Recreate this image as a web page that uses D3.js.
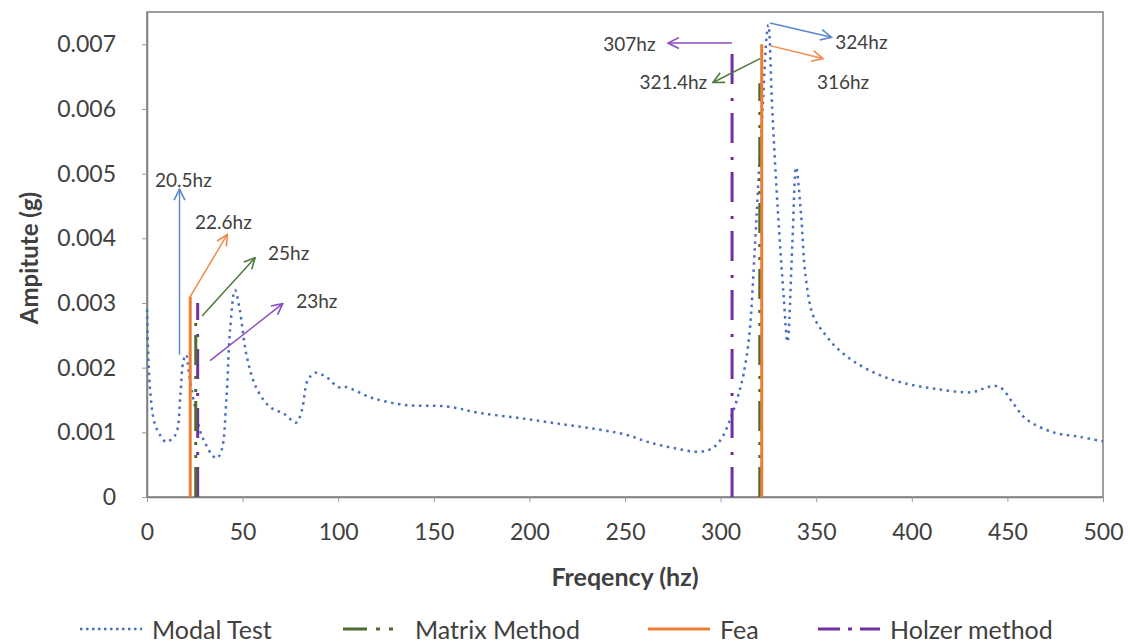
<!DOCTYPE html>
<html>
<head>
<meta charset="utf-8">
<script src="https://cdn.jsdelivr.net/npm/d3@7"></script>
<style>
  body { margin: 0; background: #fff; }
  svg { display: block; font-family: Lato, "Open Sans", sans-serif; }
</style>
</head>
<body>
<svg id="chart" width="1130" height="644"></svg>
<script>
// Modal test response
const modalFreq = [0, 1.5, 4, 7, 10, 13, 15.5, 17.5, 19, 20.5, 22, 25, 28, 31, 34, 36.5, 39, 41.5, 43.5, 46,
  48.5, 52, 57, 64, 72, 78, 81, 84, 88, 94, 100, 104, 118, 136, 157, 174, 195, 216, 237, 251, 262, 275,
  289, 296, 301, 305, 309, 312, 315, 318, 320, 322, 324, 325, 327, 330, 333, 335, 337.5, 339.5, 342,
  344.5, 348.5, 355, 361, 369.5, 382, 396, 413, 431, 438, 443, 447, 453, 460, 474, 488, 500];
const modalAmp = [0.0029, 0.0017, 0.00114, 0.00095, 0.00085, 0.0009, 0.001, 0.0016, 0.0021, 0.0022, 0.0019,
  0.0014, 0.001, 0.0008, 0.00065, 0.0006, 0.00072, 0.0015, 0.0026, 0.0032, 0.0029, 0.0022, 0.0017, 0.0014,
  0.00128, 0.00115, 0.00134, 0.0018, 0.00192, 0.00185, 0.0017, 0.0017, 0.00153, 0.00142, 0.0014, 0.0013,
  0.00122, 0.00113, 0.00104, 0.00096, 0.00085, 0.00076, 0.0007, 0.00076, 0.00093, 0.0012, 0.00155, 0.0019,
  0.0025, 0.0039, 0.005, 0.006, 0.0071, 0.0073, 0.006, 0.0044, 0.0031, 0.0024, 0.0039, 0.0051, 0.0044,
  0.0034, 0.0028, 0.0025, 0.0023, 0.0021, 0.0019, 0.00176, 0.00167, 0.00162, 0.00168, 0.00172, 0.00168,
  0.00145, 0.0012, 0.001, 0.00093, 0.00086];

// The three calculated methods are vertical spikes: [freq, height]
const matrixFreq = [25.5, 320.5];
const matrixAmp = [0.0028, 0.0064];
const feaFreq = [22.6, 321.5];
const feaAmp = [0.0031, 0.007];
const holzerFreq = [26.5, 306];
const holzerAmp = [0.003, 0.007];

// Callout arrows: start, end (data units), label anchor, text
const calloutText = ['20.5hz', '22.6hz', '25hz', '23hz', '307hz', '321.4hz', '324hz', '316hz'];
const calloutFrom = [[17, 0.0022], [22.6, 0.0031], [28.8, 0.0028], [33, 0.00211],
  [306, 0.00702], [320.6, 0.00678], [325.8, 0.00733], [325.8, 0.00698]];
const calloutTo = [[17, 0.00476], [42, 0.00406], [56.5, 0.0037], [71, 0.00299],
  [272.5, 0.00702], [296, 0.00641], [358, 0.00711], [353.5, 0.00678]];
const calloutLabel = [[4.2, 0.00491], [25.1, 0.00426], [63.3, 0.00378], [78, 0.00304],
  [266, 0.00702], [293, 0.00642], [360, 0.00704], [350.4, 0.00642]];
const calloutSeries = ['modal', 'fea', 'matrix', 'holzer', 'holzer', 'matrix', 'modal', 'fea'];

const xTicks = d3.range(0, 501, 50);
const yTicks = d3.range(0, 0.0071, 0.001);

const legendNames = ['Modal Test', 'Matrix Method', 'Fea', 'Holzer method'];

const COLORS = {modal: '#4a6fbf', matrix: '#4f6b2e', fea: '#ed7d31', holzer: '#7030a0'};
const ARROW_COLORS = {modal: '#5b86d0', matrix: '#4d7a3a', fea: '#f08a4b', holzer: '#8a4cc0'};
const DASHES = {modal: '2.5,4.5', matrix: '30,9,3,10,3,11', fea: null, holzer: '30,12,3,14'};
const LEGEND_DASHES = {modal: '2.5,3.5', matrix: '24,9,4,9,4,12', fea: null, holzer: '22,8,4,8,20'};
const WIDTHS = {modal: 2.5, matrix: 3, fea: 3, holzer: 3};
const TEXT = '#404040';

const M = {left: 147, right: 1103, top: 12, bottom: 497};
const svg = d3.select('#chart');

const x = d3.scaleLinear().domain([0, 500]).range([M.left, M.right]);
const y = d3.scaleLinear().domain([0, 0.0075]).range([M.bottom, M.top]);

// arrowheads, one per colour
const defs = svg.append('defs');
Object.keys(ARROW_COLORS).forEach(k => {
  defs.append('marker')
    .attr('id', 'head-' + k)
    .attr('viewBox', '0 0 12 12')
    .attr('refX', 11).attr('refY', 6)
    .attr('markerWidth', 13).attr('markerHeight', 13)
    .attr('markerUnits', 'userSpaceOnUse')
    .attr('orient', 'auto')
    .append('path')
    .attr('d', 'M1,1 L11,6 L1,11')
    .attr('fill', 'none')
    .attr('stroke', ARROW_COLORS[k])
    .attr('stroke-width', 1.5);
});

// plot frame
svg.append('rect')
  .attr('x', M.left).attr('y', M.top)
  .attr('width', M.right - M.left).attr('height', M.bottom - M.top)
  .attr('fill', 'none').attr('stroke', '#7f7f7f').attr('stroke-width', 1.5);

// axes
let xAxis = svg.append('g')
  .attr('transform', `translate(0 ${M.bottom})`)
  .call(d3.axisBottom(x).tickValues(xTicks).tickSizeInner(5).tickSizeOuter(0).tickPadding(22)
    .tickFormat(d3.format('d')));
let yAxis = svg.append('g')
  .attr('transform', `translate(${M.left} 0)`)
  .call(d3.axisLeft(y).tickValues(yTicks).tickSizeInner(5).tickSizeOuter(0).tickPadding(26)
    .tickFormat(d => d === 0 ? '0' : d3.format('.3f')(d)));
[xAxis, yAxis].forEach(g => {
  g.select('.domain').attr('stroke', '#7f7f7f').attr('stroke-width', 1.5);
  g.selectAll('.tick line').attr('stroke', '#9a9a9a');
  g.selectAll('.tick text').attr('font-size', 23).attr('fill', TEXT)
    .attr('font-family', 'Lato, sans-serif');
});

svg.append('text')
  .attr('x', (M.left + M.right) / 2).attr('y', 576)
  .attr('text-anchor', 'middle').attr('dominant-baseline', 'central')
  .attr('font-size', 25).attr('font-weight', 'bold').attr('fill', TEXT)
  .text('Freqency (hz)');
svg.append('text')
  .attr('transform', `translate(28 258) rotate(-90)`)
  .attr('text-anchor', 'middle').attr('dominant-baseline', 'central')
  .attr('font-size', 24).attr('font-weight', 'bold').attr('fill', TEXT)
  .text('Ampitute (g)');

const plot = svg.append('g');

// modal test curve, smoothed like the spreadsheet line
const modal = modalFreq.map((f, i) => [f, modalAmp[i]]);
const line = d3.line()
  .x(d => x(d[0])).y(d => y(d[1]))
  .curve(d3.curveCatmullRom.alpha(0.5));
plot.append('path')
  .datum(modal)
  .attr('d', line)
  .attr('fill', 'none')
  .attr('stroke', COLORS.modal)
  .attr('stroke-width', WIDTHS.modal)
  .attr('stroke-dasharray', DASHES.modal);

// vertical spikes for the three methods
const spikes = [
  {key: 'holzer', f: holzerFreq, a: holzerAmp},
  {key: 'matrix', f: matrixFreq, a: matrixAmp},
  {key: 'fea', f: feaFreq, a: feaAmp},
];
spikes.forEach(s => {
  plot.selectAll('.spike-' + s.key)
    .data(s.f.map((f, i) => [f, s.a[i]]))
    .join('line')
    .attr('class', 'spike-' + s.key)
    .attr('x1', d => x(d[0])).attr('x2', d => x(d[0]))
    .attr('y1', y(0)).attr('y2', d => y(d[1]))
    .attr('stroke', COLORS[s.key])
    .attr('stroke-width', WIDTHS[s.key])
    .attr('stroke-dasharray', DASHES[s.key]);
});

// callouts
const callouts = calloutText.map((t, i) => ({
  t, from: calloutFrom[i], to: calloutTo[i], at: calloutLabel[i], key: calloutSeries[i],
  // labels left of the arrow tip are right-aligned
  anchor: calloutTo[i][0] < calloutFrom[i][0] ? 'end' : 'start'
}));
plot.selectAll('.callout')
  .data(callouts)
  .join('line')
  .attr('class', 'callout')
  .attr('x1', d => x(d.from[0])).attr('y1', d => y(d.from[1]))
  .attr('x2', d => x(d.to[0])).attr('y2', d => y(d.to[1]))
  .attr('stroke', d => ARROW_COLORS[d.key])
  .attr('stroke-width', 1.5)
  .attr('marker-end', d => `url(#head-${d.key})`);
plot.selectAll('.callout-label')
  .data(callouts)
  .join('text')
  .attr('class', 'callout-label')
  .attr('x', d => x(d.at[0])).attr('y', d => y(d.at[1]))
  .attr('text-anchor', d => d.anchor)
  .attr('dominant-baseline', 'central')
  .attr('font-size', 19).attr('fill', TEXT)
  .text(d => d.t);

// legend
const legendKeys = ['modal', 'matrix', 'fea', 'holzer'];
const legendX = [80, 343, 648, 818];
const lg = svg.append('g').attr('transform', 'translate(0 629)');
legendKeys.forEach((k, i) => {
  lg.append('line')
    .attr('x1', legendX[i]).attr('x2', legendX[i] + 62)
    .attr('y1', 0).attr('y2', 0)
    .attr('stroke', COLORS[k])
    .attr('stroke-width', WIDTHS[k])
    .attr('stroke-dasharray', LEGEND_DASHES[k]);
  lg.append('text')
    .attr('x', legendX[i] + 72).attr('y', 0)
    .attr('dominant-baseline', 'central')
    .attr('font-size', 25).attr('fill', TEXT)
    .text(legendNames[i]);
});
</script>
</body>
</html>
